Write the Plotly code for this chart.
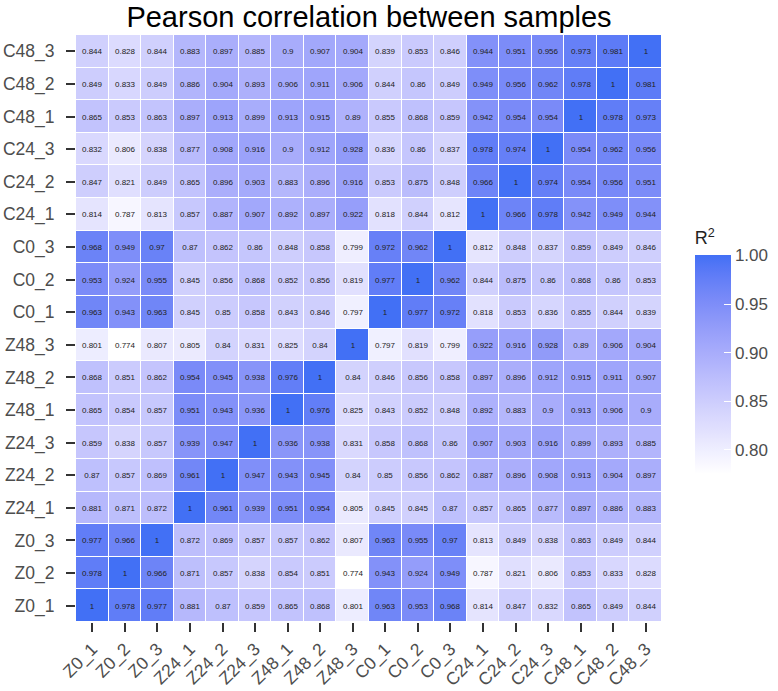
import plotly.graph_objects as go
import numpy as np

samples = ["Z0_1", "Z0_2", "Z0_3", "Z24_1", "Z24_2", "Z24_3", "Z48_1", "Z48_2", "Z48_3",
           "C0_1", "C0_2", "C0_3", "C24_1", "C24_2", "C24_3", "C48_1", "C48_2", "C48_3"]

# rows listed bottom (Z0_1) to top (C48_3); columns in samples order
r_Z0_1 = [1, 0.978, 0.977, 0.881, 0.87, 0.859, 0.865, 0.868, 0.801, 0.963, 0.953, 0.968, 0.814, 0.847, 0.832, 0.865, 0.849, 0.844]
r_Z0_2 = [0.978, 1, 0.966, 0.871, 0.857, 0.838, 0.854, 0.851, 0.774, 0.943, 0.924, 0.949, 0.787, 0.821, 0.806, 0.853, 0.833, 0.828]
r_Z0_3 = [0.977, 0.966, 1, 0.872, 0.869, 0.857, 0.857, 0.862, 0.807, 0.963, 0.955, 0.97, 0.813, 0.849, 0.838, 0.863, 0.849, 0.844]
r_Z24_1 = [0.881, 0.871, 0.872, 1, 0.961, 0.939, 0.951, 0.954, 0.805, 0.845, 0.845, 0.87, 0.857, 0.865, 0.877, 0.897, 0.886, 0.883]
r_Z24_2 = [0.87, 0.857, 0.869, 0.961, 1, 0.947, 0.943, 0.945, 0.84, 0.85, 0.856, 0.862, 0.887, 0.896, 0.908, 0.913, 0.904, 0.897]
r_Z24_3 = [0.859, 0.838, 0.857, 0.939, 0.947, 1, 0.936, 0.938, 0.831, 0.858, 0.868, 0.86, 0.907, 0.903, 0.916, 0.899, 0.893, 0.885]
r_Z48_1 = [0.865, 0.854, 0.857, 0.951, 0.943, 0.936, 1, 0.976, 0.825, 0.843, 0.852, 0.848, 0.892, 0.883, 0.9, 0.913, 0.906, 0.9]
r_Z48_2 = [0.868, 0.851, 0.862, 0.954, 0.945, 0.938, 0.976, 1, 0.84, 0.846, 0.856, 0.858, 0.897, 0.896, 0.912, 0.915, 0.911, 0.907]
r_Z48_3 = [0.801, 0.774, 0.807, 0.805, 0.84, 0.831, 0.825, 0.84, 1, 0.797, 0.819, 0.799, 0.922, 0.916, 0.928, 0.89, 0.906, 0.904]
r_C0_1 = [0.963, 0.943, 0.963, 0.845, 0.85, 0.858, 0.843, 0.846, 0.797, 1, 0.977, 0.972, 0.818, 0.853, 0.836, 0.855, 0.844, 0.839]
r_C0_2 = [0.953, 0.924, 0.955, 0.845, 0.856, 0.868, 0.852, 0.856, 0.819, 0.977, 1, 0.962, 0.844, 0.875, 0.86, 0.868, 0.86, 0.853]
r_C0_3 = [0.968, 0.949, 0.97, 0.87, 0.862, 0.86, 0.848, 0.858, 0.799, 0.972, 0.962, 1, 0.812, 0.848, 0.837, 0.859, 0.849, 0.846]
r_C24_1 = [0.814, 0.787, 0.813, 0.857, 0.887, 0.907, 0.892, 0.897, 0.922, 0.818, 0.844, 0.812, 1, 0.966, 0.978, 0.942, 0.949, 0.944]
r_C24_2 = [0.847, 0.821, 0.849, 0.865, 0.896, 0.903, 0.883, 0.896, 0.916, 0.853, 0.875, 0.848, 0.966, 1, 0.974, 0.954, 0.956, 0.951]
r_C24_3 = [0.832, 0.806, 0.838, 0.877, 0.908, 0.916, 0.9, 0.912, 0.928, 0.836, 0.86, 0.837, 0.978, 0.974, 1, 0.954, 0.962, 0.956]
r_C48_1 = [0.865, 0.853, 0.863, 0.897, 0.913, 0.899, 0.913, 0.915, 0.89, 0.855, 0.868, 0.859, 0.942, 0.954, 0.954, 1, 0.978, 0.973]
r_C48_2 = [0.849, 0.833, 0.849, 0.886, 0.904, 0.893, 0.906, 0.911, 0.906, 0.844, 0.86, 0.849, 0.949, 0.956, 0.962, 0.978, 1, 0.981]
r_C48_3 = [0.844, 0.828, 0.844, 0.883, 0.897, 0.885, 0.9, 0.907, 0.904, 0.839, 0.853, 0.846, 0.944, 0.951, 0.956, 0.973, 0.981, 1]

rows = [r_Z0_1, r_Z0_2, r_Z0_3, r_Z24_1, r_Z24_2, r_Z24_3, r_Z48_1, r_Z48_2, r_Z48_3,
        r_C0_1, r_C0_2, r_C0_3, r_C24_1, r_C24_2, r_C24_3, r_C48_1, r_C48_2, r_C48_3]

colorbar_ticks = [0.80, 0.85, 0.90, 0.95, 1.00]

# ---- Lab-space gradient (white -> blue), like ggplot2 scale_fill_gradient
def srgb_to_lin(c):
    c = c / 255.0
    return np.where(c <= 0.04045, c / 12.92, ((c + 0.055) / 1.055) ** 2.4)

def lin_to_srgb(c):
    c = np.clip(c, 0, 1)
    v = np.where(c <= 0.0031308, 12.92 * c, 1.055 * c ** (1 / 2.4) - 0.055)
    return np.clip(np.round(v * 255), 0, 255)

M = np.array([[0.4124, 0.3576, 0.1805], [0.2126, 0.7152, 0.0722], [0.0193, 0.1192, 0.9505]])
Minv = np.linalg.inv(M)
WP = np.array([0.95047, 1.0, 1.08883])

def f(t):
    d = 6 / 29
    return np.where(t > d ** 3, np.cbrt(t), t / (3 * d * d) + 4 / 29)

def finv(t):
    d = 6 / 29
    return np.where(t > d, t ** 3, 3 * d * d * (t - 4 / 29))

def rgb_to_lab(rgb):
    xyz = M @ srgb_to_lin(np.array(rgb, float)) / WP
    fx, fy, fz = f(xyz)
    return np.array([116 * fy - 16, 500 * (fx - fy), 200 * (fy - fz)])

def lab_to_rgb(lab):
    L, a, b = lab
    fy = (L + 16) / 116
    fx = fy + a / 500
    fz = fy - b / 200
    xyz = finv(np.array([fx, fy, fz])) * WP
    return lin_to_srgb(Minv @ xyz)

low = rgb_to_lab([255, 255, 255])
high = rgb_to_lab([66, 112, 245])
colorscale = []
for t in np.linspace(0, 1, 21):
    c = lab_to_rgb(low + (high - low) * t)
    colorscale.append([float(t), f"rgb({int(c[0])},{int(c[1])},{int(c[2])})"])

z = np.array(rows)
text = [[f"{v:g}" for v in r] for r in rows]

fig = go.Figure(go.Heatmap(
    z=z, x=samples, y=samples,
    text=text, texttemplate="%{text}",
    textfont=dict(size=8, color="#222222", family="Liberation Sans, Arial, sans-serif"),
    colorscale=colorscale, zmin=float(z.min()), zmax=1.0,
    xgap=1, ygap=1, hoverinfo="skip",
    colorbar=dict(
        title=dict(text="R<sup>2</sup>", font=dict(size=18, color="#222222"), side="top"),
        x=1.056, xanchor="left", xpad=0, y=0.461, yanchor="middle", ypad=0,
        thickness=36, len=247, lenmode="pixels",
        tickvals=colorbar_ticks, ticktext=[f"{v:.2f}" for v in colorbar_ticks],
        ticks="inside", ticklen=7, tickcolor="white", tickwidth=1,
        tickfont=dict(size=17, color="#4d4d4d"),
        outlinewidth=0,
    ),
))

fig.update_layout(
    width=778, height=691,
    margin=dict(l=76, r=116, t=35, b=69, autoexpand=False),
    paper_bgcolor="white", plot_bgcolor="white",
    font=dict(family="Liberation Sans, Arial, sans-serif"),
    title=dict(text="Pearson correlation between samples", x=369 / 778, xanchor="center",
               y=1 - 17 / 691, yanchor="middle", font=dict(size=29, color="black")),
)
fig.update_xaxes(tickangle=-45, ticks="outside", ticklen=9, tickwidth=1.5, tickcolor="#333333",
                 tickfont=dict(size=17.5, color="#4d4d4d"), showgrid=False, zeroline=False,
                 showline=False, fixedrange=True, automargin=False)
fig.update_yaxes(ticks="outside", ticklen=9, tickwidth=1.5, tickcolor="#333333",
                 tickfont=dict(size=17.5, color="#4d4d4d"), showgrid=False, zeroline=False,
                 showline=False, fixedrange=True, automargin=False, ticklabelstandoff=8)

fig.write_html("out.html", config={"displayModeBar": False},
               post_script="document.body.style.margin='0px';")
